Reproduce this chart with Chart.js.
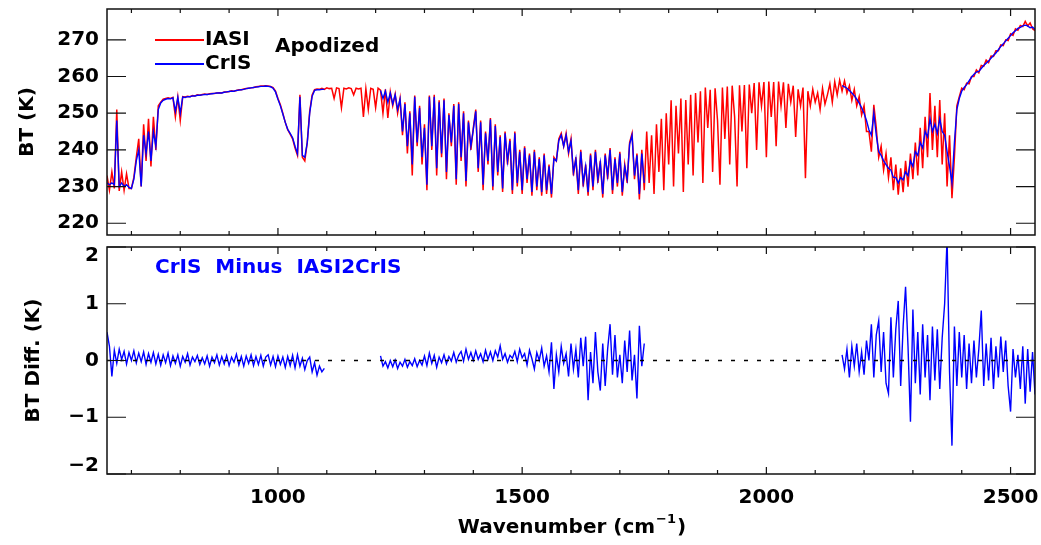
<!DOCTYPE html>
<html>
<head>
<meta charset="utf-8">
<script src="https://cdn.jsdelivr.net/npm/chart.js@4.4.1/dist/chart.umd.min.js"></script>
<style>
  html, body { margin: 0; padding: 0; background: #fff; }
  #wrap { position: relative; width: 1041px; height: 545px; }
  canvas { position: absolute; left: 0; top: 0; }
</style>
</head>
<body>
<div id="wrap">
  <canvas id="top" width="1041" height="545"></canvas>
  <canvas id="bottom" width="1041" height="545"></canvas>
</div>
<script>
// wavenumber grid of the readings (cm-1)
const STEP = 5;
const IASI_START = 650;
const CRIS_STARTS = [650, 1210, 2155];

// IASI BT (K), 650 .. 2550 every 5 cm-1
const iasiBT = [
  233, 229, 234, 229.5, 251, 228.8, 234, 229, 233.5, 229.5, 229.5, 232.5, 238, 243, 230, 247, 237, 248.5, 235.5, 249,
  240, 252, 253, 253.8, 254, 254.2, 254, 254.3, 249, 254.4, 248, 254.5, 254.4, 254.6, 254.5, 254.8, 254.7, 255, 254.9, 255.1,
  255.2, 255.1, 255.3, 255.4, 255.4, 255.5, 255.6, 255.5, 255.8, 255.8, 255.9, 256.1, 256, 256.2, 256.4, 256.4, 256.6, 256.7, 256.8, 256.9,
  257, 257.2, 257.3, 257.4, 257.4, 257.5, 257.4, 257.3, 257, 256, 254, 252.3, 250, 247.5, 245.5, 244.3, 243, 240.5, 238.5, 255,
  238, 237, 242, 250.5, 255, 256.4, 256.6, 256.5, 256.8, 256.5, 256.9, 256.7, 256.8, 254, 256.9, 256.7, 251.5, 256.8, 256.6, 256.9,
  256.7, 255, 256.8, 256.6, 256.8, 249, 256.7, 251, 256.8, 256.5, 251.5, 256.8, 256.3, 250, 256.5, 248.7, 255.8, 252, 255.2, 250,
  254, 244, 253, 239, 250.5, 233, 254.8, 241, 252, 236, 247, 229, 254.8, 240, 255, 233, 253.5, 238, 254, 232,
  250, 241, 252.5, 230.5, 253, 237, 250.5, 230, 248, 240, 246, 251, 234, 248, 229, 245, 236, 248.7, 229, 247,
  233, 244, 228.5, 245, 236, 243, 228, 245, 230, 240, 228, 241, 231, 239, 227.5, 240, 229, 238, 227.5, 239,
  228, 236, 227, 238, 237, 243, 244.5, 241, 244.5, 239, 243, 233, 238, 228, 240, 230, 236, 227.5, 239, 229,
  240, 231, 237, 227, 239, 232, 240.5, 228, 238, 230, 239.5, 227.5, 236, 231, 242, 244.5, 232, 239, 226.5, 240,
  229, 245, 231, 244, 228, 247, 234, 248.5, 229, 250, 236, 253.5, 230, 252, 239, 254, 228.5, 253.6, 236, 255,
  233, 255.5, 242, 256, 231, 257, 246, 256.4, 234, 256.8, 248, 230.5, 257, 243, 257.3, 236, 257.5, 249, 230, 257.6,
  245, 257.7, 235, 257.8, 250, 258.2, 240, 258.4, 252, 258.5, 238, 258.6, 249, 258.5, 241, 258.6, 252, 258.4, 246, 258,
  253, 257.5, 243.5, 256.5, 252, 257, 232.3, 256, 252, 256.5, 253, 255.5, 251, 256.8, 252.5, 255, 258, 253, 258.6, 255,
  259, 256, 258.8, 255.5, 257.5, 253.5, 256.5, 252, 254.5, 249.5, 252, 245, 245, 239.5, 252.3, 246, 238, 241, 234.5, 239,
  232.5, 238, 229, 236, 227.8, 235, 228.5, 237, 230, 239, 232, 242, 233, 246, 235, 249, 238, 255.5, 240, 252,
  238, 253.6, 236, 250, 230, 244, 226.8, 238, 252, 254.5, 256.8, 256.4, 258.2, 258, 260, 260, 261.8, 261, 263, 262.8,
  264.5, 263.8, 265.6, 265.5, 267, 267, 268.6, 268.4, 270, 269.8, 271.6, 271.2, 273, 272.6, 273.9, 273.6, 275, 273.8, 274.6, 273, 272.5
];

// CrIS BT (K), three bands
const crisBT1 = [
  231, 230.5, 231, 230.5, 248, 230, 231, 230, 230.5, 229.8, 229.5, 232, 237, 240, 230, 244, 239, 245, 237, 245,
  241, 251, 252.8, 253.5, 253.8, 254, 253.9, 254.2, 250.5, 254.3, 250, 254.4, 254.3, 254.5, 254.5, 254.7, 254.7, 254.9, 254.9, 255,
  255.1, 255.1, 255.2, 255.3, 255.4, 255.5, 255.5, 255.5, 255.7, 255.8, 255.9, 256, 256, 256.2, 256.3, 256.4, 256.5, 256.7, 256.8, 256.9,
  257, 257.1, 257.2, 257.3, 257.3, 257.4, 257.3, 257.2, 256.8, 255.8, 253.8, 252, 249.8, 247.5, 245.6, 244.5, 243.3, 241, 239, 254.5,
  238.5, 238, 242, 250, 254.6, 256.2, 256.4, 256.4, 256.5, 256.5
];
const crisBT2 = [
  256.2, 254, 256, 253, 255.5, 252.5, 255, 251, 253.8, 245, 252.5, 241, 250, 236, 254.5, 242, 251.5, 238, 246, 230.5, 254.5, 241, 254.5, 235, 253, 239, 253.5, 234,
  249.5, 242, 252, 232, 252.5, 238, 250, 231.5, 247.5, 241, 245.5, 250.5, 235, 247.5, 230.5, 244.5, 237, 248.3, 230, 246.5,
  234, 243.5, 229.5, 244.5, 237, 242.5, 229, 244.5, 231, 239.5, 229, 240.5, 232, 238.5, 228.5, 239.5, 230, 237.5, 228.5, 238.5,
  229, 235.5, 228, 237.5, 237, 242.5, 244, 241, 244, 239.5, 242.5, 234, 237.5, 229, 239.5, 231, 235.5, 228.5, 238.5, 230,
  239.5, 232, 236.5, 228, 238.5, 233, 240, 229, 237.5, 231, 239, 228.5, 235.5, 232, 241.5, 244, 233, 238.5, 228, 239, 231
];
const crisBT3 = [
  257.5, 257.2, 256.8, 256.2, 255.5, 254.8, 253.8, 252.8, 251.5, 250, 248, 245.5, 244, 250, 244, 239.5, 238.5, 237, 236, 235,
  234.5, 232.5, 232.5, 231, 232.5, 231.8, 234, 233, 237, 235.5, 239.5, 238.5, 242, 240.5, 245, 243.5, 248.5, 245, 247, 244.5,
  248.5, 245, 244, 239.5, 235.5, 231, 242, 251, 254, 256, 257, 257.8, 258.8, 259.8, 260.6, 261.2, 261.4, 262.2, 263, 263.6,
  264.2, 265, 265.7, 266.4, 267.3, 268.2, 268.9, 269.7, 270.4, 271.2, 271.9, 272.5, 273.1, 273.4, 273.8, 274, 273.8, 273.3, 273.5, 272.8
];

// CrIS minus IASI2CrIS (K), same three bands
const diff1 = [
  0.5, 0.25, -0.28, 0.18, -0.05, 0.2, 0.02, 0.16, -0.06, 0.14, 0.0, 0.17, -0.04, 0.13, -0.02, 0.15, -0.07, 0.12, -0.03, 0.14,
  -0.06, 0.11, -0.08, 0.1, -0.04, 0.13, -0.09, 0.08, -0.05, 0.1, -0.1, 0.07, -0.03, 0.12, -0.08, 0.06, -0.02, 0.09, -0.07, 0.05,
  -0.06, 0.08, -0.1, 0.06, -0.04, 0.1, -0.08, 0.07, -0.06, 0.09, -0.09, 0.06, -0.03, 0.11, -0.08, 0.07, -0.1, 0.08, -0.05, 0.1,
  -0.09, 0.07, -0.07, 0.09, -0.1, 0.06, 0.1, -0.08, 0.07, -0.11, 0.08, -0.07, 0.06, -0.12, 0.07, -0.09, 0.09, -0.13, 0.1, -0.1,
  0.04, -0.16, 0.0, 0.06, -0.2, -0.04, -0.26, -0.1, -0.2, -0.14
];
const diff2 = [
  0.08, -0.1, -0.02, -0.13, 0.0, -0.11, 0.01, -0.14, -0.03, -0.1, 0.02, -0.12, -0.02, -0.09, 0.03, -0.11, 0.0, -0.08, 0.08, -0.09, 0.13, -0.05, 0.09, -0.12, 0.06, -0.04, 0.1, -0.06,
  0.07, -0.01, 0.14, -0.03, 0.09, 0.16, -0.01, 0.2, 0.02, 0.14, 0.0, 0.17, 0.02, 0.12, -0.02, 0.18, 0.02, 0.15, 0.0, 0.17,
  0.06, 0.26, 0.02, 0.12, -0.03, 0.09, 0.04, 0.16, -0.02, 0.2, 0.05, 0.12, -0.08, 0.18, 0.03, -0.15, 0.14, 0.0, 0.22, -0.1,
  0.08, -0.2, 0.32, -0.5, 0.1, -0.2, 0.25, -0.05, 0.12, -0.28, 0.3, -0.15, 0.2, -0.3, 0.4, -0.1, 0.42, -0.7, 0.15, -0.4,
  0.5, -0.2, -0.53, 0.3, -0.45, 0.2, 0.64, -0.25, 0.45, -0.3, 0.1, -0.4, 0.35, -0.2, 0.53, -0.35, 0.1, -0.67, 0.61, -0.1, 0.3
];
const diff3 = [
  0.1, -0.15, 0.2, -0.3, 0.25, -0.1, 0.3, -0.2, 0.15, -0.25, 0.35, 0.0, 0.64, -0.3, 0.45, 0.7, -0.2, 0.5, -0.4, -0.58,
  0.76, -0.3, 0.55, 1.05, -0.45, 0.6, 1.3, 0.25, -1.08, 0.9, -0.4, 0.5, -0.6, 0.64, -0.3, 0.45, -0.7, 0.6, -0.35, 0.55,
  -0.5, 0.4, 1.0, 2.15, -0.2, -1.5, 0.6, -0.45, 0.5, -0.3, 0.45, -0.5, 0.3, -0.4, 0.35, -0.3, 0.2, 0.88, -0.45, 0.3,
  -0.35, 0.4, -0.5, 0.25, -0.3, 0.42, -0.2, 0.35, -0.45, -0.9, 0.2, -0.3, 0.1, -0.5, 0.25, -0.76, 0.2, -0.55, 0.15, -0.6
];

// axes
const xRange = [650, 2550];
const xMajor = [1000, 1500, 2000, 2500];
const xMinor = [700, 800, 900, 1000, 1100, 1200, 1300, 1400, 1500, 1600, 1700, 1800, 1900, 2000, 2100, 2200, 2300, 2400, 2500];
const btRange = [216.8, 278.4];
const btTicks = [220, 230, 240, 250, 260, 270];
const diffRange = [-2, 2];
const diffTicks = [-2, -1, 0, 1, 2];

const FONT = 'bold 20px "DejaVu Sans"';

function band(start, vals) {
  return vals.map((v, i) => ({ x: start + i * STEP, y: v }));
}
function bands(list) {
  const out = [];
  list.forEach((vals, k) => {
    if (k > 0) out.push({ x: CRIS_STARTS[k] - STEP, y: null });
    out.push(...band(CRIS_STARTS[k], vals));
  });
  return out;
}

const framePlugin = {
  id: 'frame',
  afterDatasetsDraw(chart, args, o) {
    const { ctx, chartArea: a } = chart;
    const x = chart.scales.x, y = chart.scales.y;
    ctx.save();
    ctx.strokeStyle = '#111';
    ctx.lineWidth = 1.2;
    ctx.beginPath();
    xMinor.forEach(v => {
      const px = x.getPixelForValue(v);
      const len = xMajor.includes(v) ? 7 : 4;
      ctx.moveTo(px, a.top); ctx.lineTo(px, a.top + len);
      ctx.moveTo(px, a.bottom); ctx.lineTo(px, a.bottom - len);
    });
    o.yTicks.forEach(v => {
      const py = y.getPixelForValue(v);
      ctx.moveTo(a.left, py); ctx.lineTo(a.left + 19, py);
      ctx.moveTo(a.right, py); ctx.lineTo(a.right - 19, py);
    });
    ctx.stroke();
    ctx.lineWidth = 1.5;
    ctx.strokeRect(a.left, a.top, a.right - a.left, a.bottom - a.top);

    ctx.fillStyle = '#000';
    ctx.font = FONT;
    ctx.textAlign = 'right';
    ctx.textBaseline = 'middle';
    o.yTicks.forEach((v, i) => {
      const label = v < 0 ? '\u2212' + Math.abs(v) : String(v);
      ctx.fillText(label, a.left - 8, y.getPixelForValue(v) + (o.yShift ? o.yShift[i] : 0));
    });

    ctx.save();
    ctx.translate(o.titleX, (a.top + a.bottom) / 2);
    ctx.rotate(-Math.PI / 2);
    ctx.textAlign = 'center';
    ctx.fillText(o.title, 0, 0);
    ctx.restore();

    if (o.xLabels) {
      ctx.textAlign = 'center';
      xMajor.forEach(v => ctx.fillText(String(v), x.getPixelForValue(v), a.bottom + 24));
      const cx = (a.left + a.right) / 2, ty = a.bottom + 54;
      const main = 'Wavenumber (cm', sup = '\u22121', tail = ')';
      const wMain = ctx.measureText(main).width;
      ctx.font = 'bold 13px "DejaVu Sans"';
      const wSup = ctx.measureText(sup).width;
      ctx.font = FONT;
      const wTail = ctx.measureText(tail).width;
      let sx = cx - (wMain + wSup + wTail) / 2;
      ctx.textAlign = 'left';
      ctx.fillText(main, sx, ty);
      ctx.font = 'bold 13px "DejaVu Sans"';
      ctx.fillText(sup, sx + wMain + 1, ty - 8);
      ctx.font = FONT;
      ctx.fillText(tail, sx + wMain + wSup + 2, ty);
    }

    // in-panel notes
    ctx.textAlign = 'left';
    (o.notes || []).forEach(n => {
      ctx.fillStyle = n.color;
      if (n.line) {
        ctx.strokeStyle = n.color;
        ctx.lineWidth = 2;
        ctx.beginPath();
        ctx.moveTo(n.line[0], n.y); ctx.lineTo(n.line[1], n.y);
        ctx.stroke();
        ctx.fillStyle = '#000';
      }
      ctx.fillText(n.text, n.x, n.y);
    });
    ctx.restore();
  }
};

function baseOptions(padding, yRange, frame) {
  return {
    responsive: false,
    animation: false,
    events: [],
    layout: { padding },
    elements: { point: { radius: 0 }, line: { tension: 0 } },
    scales: {
      x: { type: 'linear', min: xRange[0], max: xRange[1], display: false },
      y: { type: 'linear', min: yRange[0], max: yRange[1], display: false }
    },
    plugins: { legend: { display: false }, tooltip: { enabled: false }, frame }
  };
}

new Chart(document.getElementById('top'), {
  type: 'line',
  data: {
    datasets: [
      { label: 'IASI', data: band(IASI_START, iasiBT), borderColor: '#ff0000', borderWidth: 1.5, order: 2 },
      { label: 'CrIS', data: bands([crisBT1, crisBT2, crisBT3]), borderColor: '#0000ff', borderWidth: 1.4, order: 1 }
    ]
  },
  options: baseOptions({ left: 107, right: 6, top: 9, bottom: 310 }, btRange, {
    yTicks: btTicks,
    title: 'BT (K)',
    titleX: 28,
    notes: [
      { text: 'IASI', x: 205, y: 40, color: '#ff0000', line: [155, 204] },
      { text: 'CrIS', x: 205, y: 64, color: '#0000ff', line: [155, 204] },
      { text: 'Apodized', x: 275, y: 47, color: '#000' }
    ]
  }),
  plugins: [framePlugin]
});

new Chart(document.getElementById('bottom'), {
  type: 'line',
  data: {
    datasets: [
      { label: 'zero', data: [{ x: xRange[0], y: 0 }, { x: xRange[1], y: 0 }], borderColor: '#000', borderWidth: 1.6, borderDash: [4, 9], order: 0 },
      { label: 'CrIS Minus IASI2CrIS', data: bands([diff1, diff2, diff3]), borderColor: '#0000ff', borderWidth: 1.4, order: 1 }
    ]
  },
  options: baseOptions({ left: 107, right: 6, top: 247, bottom: 71 }, diffRange, {
    yTicks: diffTicks,
    yShift: [-8, 0, 0, 0, 9],
    title: 'BT Diff. (K)',
    titleX: 34,
    xLabels: true,
    notes: [
      { text: 'CrIS  Minus  IASI2CrIS', x: 155, y: 268, color: '#0000ff' }
    ]
  }),
  plugins: [framePlugin]
});
</script>
</body>
</html>
